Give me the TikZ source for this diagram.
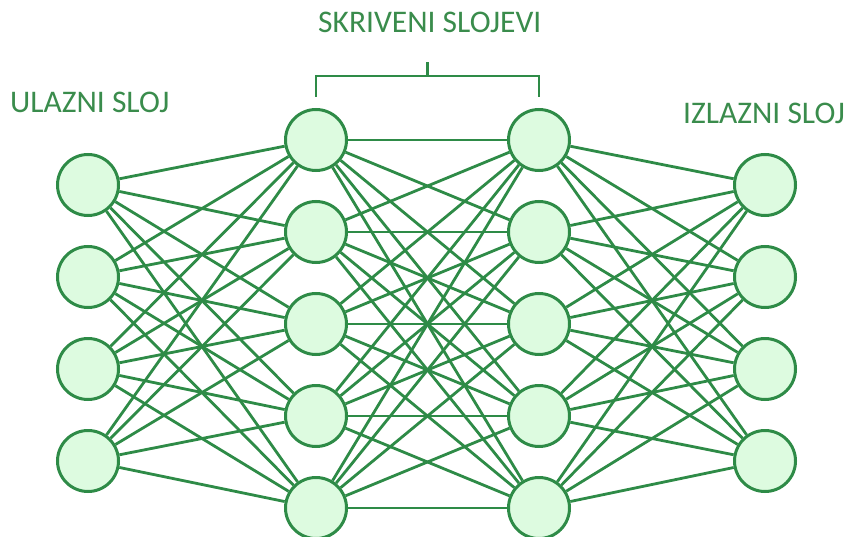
\documentclass[tikz,border=0pt]{standalone}
\usepackage{fontspec}
\setmainfont{Carlito}
\usetikzlibrary{calc}
\usetikzlibrary{backgrounds}
\definecolor{netgreen}{HTML}{2E8B47}
\definecolor{netfill}{HTML}{DDFBE0}
\definecolor{labelgreen}{HTML}{3A8C4C}
\tikzset{neuron/.style={circle,draw=netgreen,fill=netfill,line width=3pt,
                        minimum size=61pt,inner sep=0pt}}
\tikzset{layerlabel/.style={text=labelgreen,font=\fontsize{31.5}{36}\selectfont,
                            inner sep=0pt,anchor=base west}}
\begin{document}
\begin{tikzpicture}[x=1pt,y=-1pt]
	\tikzstyle{link}=[draw=netgreen,line width=2.8pt]
	\tikzstyle{bracket}=[draw=netgreen,line width=2.4pt]
  \useasboundingbox (0,0) rectangle (850,537);

  % Layer captions
  \node (lab_in)  [layerlabel] at (10,113)  {ULAZNI SLOJ};
  \node (lab_hid) [layerlabel] at (318,33)  {SKRIVENI SLOJEVI};
  \node (lab_out) [layerlabel] at (683,124) {IZLAZNI SLOJ};

  % Input and output layers: four neurons each
  \foreach \i/\y in {1/185,2/277,3/369,4/461} {
    \node (in_\i)  [neuron] at (88,\y)  {};
    \node (out_\i) [neuron] at (765,\y) {};
  }
  % Two hidden layers: five neurons each
  \foreach \i/\y in {1/140,2/232,3/324,4/416,5/508} {
    \node (ha_\i) [neuron] at (316,\y) {};
    \node (hb_\i) [neuron] at (539,\y) {};
  }

  % The layers are fully connected; links go behind the neurons
  \begin{pgfonlayer}{background}
  \foreach \a in {1,...,4}
    \foreach \b in {1,...,5}
      \path[link] (in_\a) -- (ha_\b);
  \foreach \a in {1,...,5}
    \foreach \b in {1,...,5}
      \path[link] (ha_\a) -- (hb_\b);
  \foreach \a in {1,...,5}
    \foreach \b in {1,...,4}
      \path[link] (hb_\a) -- (out_\b);
  \end{pgfonlayer}

  % Bracket over the hidden layers
  \path[bracket] ([yshift=11pt]ha_1.north) -- ++(0,-21) coordinate (br_a)
                 -| ([yshift=11pt]hb_1.north);
  \coordinate (br_b) at (br_a -| hb_1.north);
  \path[bracket] ($(br_a)!0.5!(br_b)$) -- ++(0,-14);

\end{tikzpicture}
\end{document}
